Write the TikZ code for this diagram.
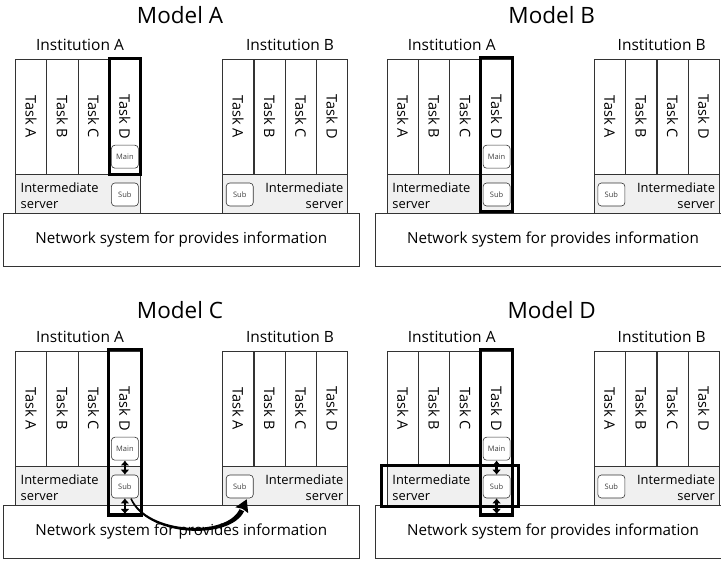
\documentclass[tikz,border=0pt]{standalone}
\usepackage{fontspec}
\setmainfont{Open Sans}
\usetikzlibrary{arrows.meta,calc}
\newcommand\mypanel[3]{%
\begin{scope}[shift={(#2,#3)}, name prefix=#1-]
  \node[inter] (ia) at (78,193.8) {};
  \node[inter, minimum width=125.2pt] (ib) at (285.1,193.8) {};
  \node[net] (net) at (181.3,240) {Network system for provides information};
  \node[col] (a1) at (31.1,116.8) {Task A};
  \node[col] (a2) at (62.4,116.8) {Task B};
  \node[col] (a3) at (93.6,116.8) {Task C};
  \node[col] (a4) at (124.9,116.8) {Task D};
  \node[col] (b1) at (238.15,116.8) {Task A};
  \node[col] (b2) at (269.45,116.8) {Task B};
  \node[col] (b3) at (300.75,116.8) {Task C};
  \node[col] (b4) at (332.05,116.8) {Task D};
  \node[sm] (main) at (124.9,156.7) {Main};
  \node[sm] (sub) at (124.9,194.5) {Sub};
  \node[sm] (subb) at (239.7,194.5) {Sub};
  \node[itext, anchor=west, align=left] (ta) at (20.5,196) {Intermediate\\server};
  \node[itext, anchor=east, align=right] (tb) at (343.5,196) {Intermediate\\server};
  \node[inst] (la) at (80,45) {Institution A};
  \node[inst] (lb) at (290,45) {Institution B};
\end{scope}}
\begin{document}
\begin{tikzpicture}[x=1pt,y=-1pt,
  line/.style={draw=black!80, line width=0.6pt},
  col/.style={line, fill=white, rotate=-90, minimum width=115pt, minimum height=31.25pt, inner sep=0pt, font=\fontsize{14.5}{16}\selectfont},
  inter/.style={line, fill=black!6, minimum width=125pt, minimum height=39pt, inner sep=0pt},
  net/.style={line, fill=white, minimum width=356pt, minimum height=53.4pt, inner sep=0pt, font=\fontsize{15.2}{18}\selectfont},
  sm/.style={line, fill=white, rounded corners=3.5pt, minimum width=27pt, minimum height=23pt, inner sep=0pt, font=\fontsize{7.5}{8}\selectfont, text=black!75},
  hl/.style={draw=black, line width=3pt},
  title/.style={font=\fontsize{22.5}{26}\selectfont},
  inst/.style={font=\fontsize{15.5}{18}\selectfont},
  itext/.style={font=\fontsize{12.9}{15.7}\selectfont, inner sep=0pt},
  dbl/.style={line width=2.4pt, {Latex[length=5pt,width=9pt]}-{Latex[length=5pt,width=9pt]}},
]
\useasboundingbox (0,0) rectangle (721,561);
\clip (0,0) rectangle (721,561);
\fill[white] (0,0) rectangle (721,561);

\mypanel{A}{0}{0}
\mypanel{B}{371.7}{0}
\mypanel{C}{0}{292}
\mypanel{D}{371.7}{292}

\node[title] (tA) at (180,15) {Model A};
\node[title] (tB) at (551.7,15) {Model B};
\node[title] (tC) at (180,310) {Model C};
\node[title] (tD) at (551.7,310) {Model D};

% Model A
\begin{scope}[shift={(0,0)}]
  \draw[hl] (109.3,58.3) rectangle (140.3,174.5);
\end{scope}
% Model B
\begin{scope}[shift={(371.7,0)}]
  \draw[hl] (108.8,57.3) rectangle (140.3,211.7);
\end{scope}
% Model C
\begin{scope}[shift={(0,292)}]
  \draw[hl] (108.5,58) rectangle (141.5,223);
  \coordinate (C-bot) at (124.9,222);
  \draw[dbl] (C-main) -- (C-sub);
  \draw[dbl] (C-sub) -- (C-bot);
  % tapered curved arrow from Sub (A) to Sub (B)
  \coordinate (C-s) at ([xshift=-7pt]C-sub.south east);
  \coordinate (C-t) at ([xshift=1.5pt,yshift=-1pt]C-subb.-65);
  \fill[black] (C-s) .. controls (148,242) and (226.8,245) .. ($(C-t)+(-7.2,9.9)$)
     -- ($(C-t)+(-2.6,11.9)$) .. controls (230.5,248.6) and (146.5,245.5) .. ($(C-s)+(-1.4,0.6)$) -- cycle;
  \fill[black] (C-t) -- ($(C-t)+(1.5,13.8)$) -- ($(C-t)+(-4.3,9.5)$) -- ($(C-t)+(-11.3,8.0)$) -- cycle;
\end{scope}
% Model D
\begin{scope}[shift={(371.7,292)}]
  \draw[hl] (108.5,58) rectangle (140.3,223);
  \draw[hl] (10,173.7) rectangle (146.6,214.7);
  \coordinate (D-bot) at (124.9,222);
  \draw[dbl] (D-main) -- (D-sub);
  \draw[dbl] (D-sub) -- (D-bot);
\end{scope}
\end{tikzpicture}
\end{document}
